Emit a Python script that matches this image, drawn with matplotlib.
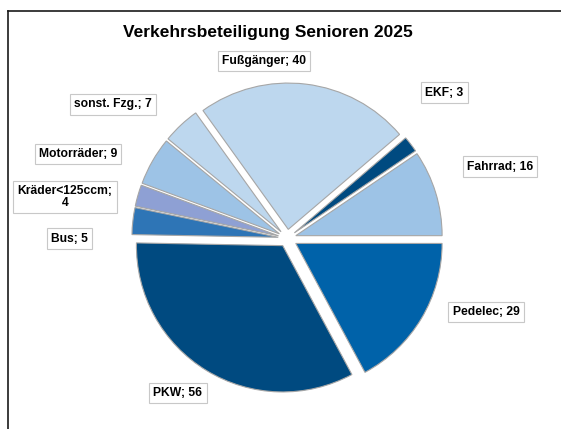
import matplotlib
matplotlib.use("Agg")
import matplotlib.pyplot as plt
from matplotlib.lines import Line2D

plt.rcParams['font.family'] = ['Liberation Sans', 'DejaVu Sans']

categories = ["Fußgänger", "EKF", "Fahrrad", "Pedelec", "PKW", "Bus",
              "Kräder<125ccm;", "Motorräder", "sonst. Fzg."]
values = [40, 3, 16, 29, 56, 5, 4, 9, 7]
title = "Verkehrsbeteiligung Senioren 2025"

colors = ["#BDD7EE", "#004A80", "#9DC3E6", "#0062A9", "#004A80",
          "#2E75B6", "#8EA0D4", "#9DC3E6", "#BDD7EE"]
# explosion offsets in pixels
explode = [9, 9, 9, 10, 8.6, 9, 9, 9, 9]

W, H = 561, 429
fig = plt.figure(figsize=(W / 100, H / 100), dpi=100)
ax = fig.add_axes([0, 0, 1, 1])

total = sum(values)
# first slice (Fußgänger) starts where the first three slices end at 3 o'clock
start = 360 * sum(values[:3]) / total

cx, cy, r = 287.2, H - 238.3, 146.3
ax.pie(values, colors=colors, startangle=start, counterclock=False,
       explode=explode, center=(cx, cy), radius=r, frame=True,
       wedgeprops=dict(edgecolor="#A6A6A6", linewidth=0.8))
ax.set_xlim(0, W)
ax.set_ylim(0, H)
ax.set_aspect('auto')
ax.axis('off')

# label positions (pixel coords, y from top)
label_pos = [(264, 61), (444.5, 92.5), (500, 166.5), (486, 312), (178, 393),
             (69.5, 238.5), (65, 197), (78, 154), (113, 104.5)]
for cat, val, (lx, ly) in zip(categories, values, label_pos):
    if cat.endswith(";"):
        txt = f"{cat}\n{val}"
    else:
        txt = f"{cat}; {val}"
    ax.text(lx, H - ly, txt, ha='center', va='center', fontsize=8.7,
            fontweight='bold', color='black', multialignment='center',
            linespacing=1.05,
            bbox=dict(boxstyle='square,pad=0.35', fc='white', ec='#C8C8C8', lw=0.8))

ax.text(268, H - 32, title, ha='center', va='center', fontsize=12.5,
        fontweight='bold', color='black')

# chart frame (left and top edges visible)
fig.add_artist(Line2D([7.5 / W, 7.5 / W], [0, 1 - 10.5 / H], transform=fig.transFigure,
                      color='#1A1A1A', lw=1.2))
fig.add_artist(Line2D([7.5 / W, 1], [1 - 10.5 / H, 1 - 10.5 / H], transform=fig.transFigure,
                      color='#1A1A1A', lw=1.2))

fig.savefig("out.png", dpi=100, facecolor='white')
